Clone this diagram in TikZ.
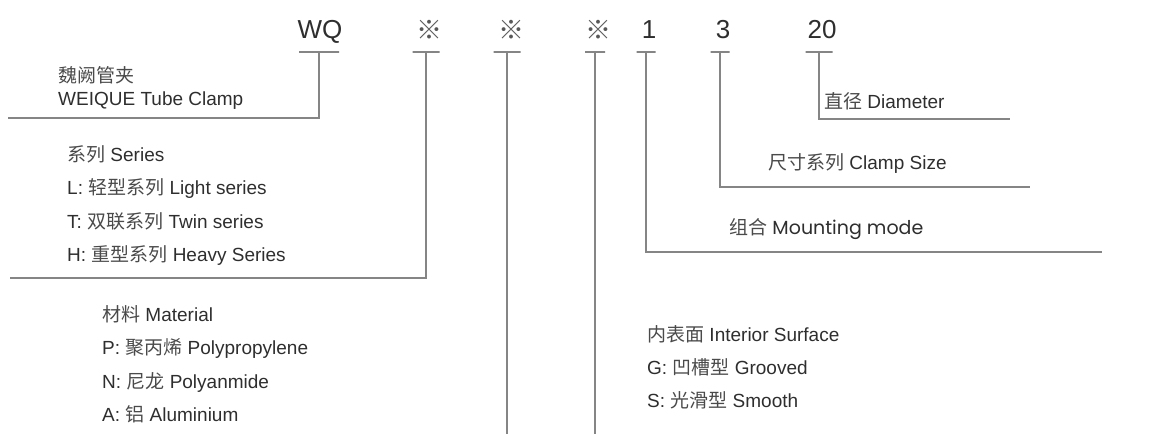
\documentclass[tikz,border=0pt]{standalone}
\usepackage{fontspec}
\setmainfont{Liberation Sans}
\newfontfamily\cjk{Noto Sans CJK SC}
\newfontfamily\geo{Poppins}
\newcommand{\zh}[1]{{\cjk\color{zhgray}#1}}
\definecolor{ink}{HTML}{2E2E2E}
\definecolor{zhgray}{HTML}{4A4A4A}
\definecolor{rule}{HTML}{858585}
\begin{document}
\begin{tikzpicture}[x=1pt,y=-1pt,
    code/.style = {anchor=base, inner sep=0pt, text=ink, font=\fontsize{26}{26}\selectfont},
    refmark/.style = {anchor=base, inner sep=0pt, text=ink!80, font=\cjk\fontsize{26}{26}\selectfont},
    tbar/.style = {draw=rule, line width=1.4pt, inner sep=0pt, minimum height=0pt},
    lead/.style = {draw=rule, line width=1.4pt},
    txt/.style = {anchor=base west, inner sep=0pt, text=ink, font=\fontsize{19}{19}\selectfont}]
    \useasboundingbox (0,0) rectangle (1149,434);

    % Codigo
    \node[code] (wq) at (320,38) {WQ};
    \node[refmark] (s1) at (429,39) {※};
    \node[refmark] (s2) at (511,39) {※};
    \node[refmark] (s3) at (598,39) {※};
    \node[code] (one) at (649,38) {1};
    \node[code] (three) at (723,38) {3};
    \node[code] (twenty) at (822,38) {20};

    % Barras
    \node[tbar, minimum width=40pt] (wq-bar) at (319,52) {};
    \node[tbar, minimum width=27pt] (s1-bar) at (426,52) {};
    \node[tbar, minimum width=27pt] (s2-bar) at (507,52) {};
    \node[tbar, minimum width=20pt] (s3-bar) at (595,52) {};
    \node[tbar, minimum width=19pt] (one-bar) at (646,52) {};
    \node[tbar, minimum width=19pt] (three-bar) at (720,52) {};
    \node[tbar, minimum width=27pt] (twenty-bar) at (819,52) {};

    % Extremos
    \coordinate (wq-end) at (8,118);
    \coordinate (s1-end) at (10,278);
    \coordinate (s2-end) at (507,434);
    \coordinate (s3-end) at (595,434);
    \coordinate (one-end) at (1102,252);
    \coordinate (three-end) at (1030,187);
    \coordinate (twenty-end) at (1010,119);

    % Textos
    \node[txt] (name) at (58,82) {\zh{魏阙管夹}};
    \node[txt] (name-en) at (58,105) {WEIQUE Tube Clamp};

    \node[txt] (series) at (67,161.5) {\zh{系列} Series};
    \node[txt] (series-l) at (67,194.8) {L: \zh{轻型系列} Light series};
    \node[txt] (series-t) at (67,228.1) {T: \zh{双联系列} Twin series};
    \node[txt] (series-h) at (67,261.4) {H: \zh{重型系列} Heavy Series};

    \node[txt] (mat) at (102,321.5) {\zh{材料} Material};
    \node[txt] (mat-p) at (102,354.8) {P: \zh{聚丙烯} Polypropylene};
    \node[txt] (mat-n) at (102,388.1) {N: \zh{尼龙} Polyanmide};
    \node[txt] (mat-a) at (102,421.4) {A: \zh{铝} Aluminium};

    \node[txt] (surf) at (647,341.5) {\zh{内表面} Interior Surface};
    \node[txt] (surf-g) at (647,374.3) {G: \zh{凹槽型} Grooved};
    \node[txt] (surf-s) at (647,407.1) {S: \zh{光滑型} Smooth};

    \node[txt] (mount) at (729,234.5) {\zh{组合} {\geo Mounting mode}};
    \node[txt] (size) at (768,169.5) {\zh{尺寸系列} Clamp Size};
    \node[txt] (dia) at (824,108.5) {\zh{直径} Diameter};

    % Conexiones
    \draw[lead] (wq-bar.center) |- (wq-end);
    \draw[lead] (s1-bar.center) |- (s1-end);
    \draw[lead] (s2-bar.center) -- (s2-end);
    \draw[lead] (s3-bar.center) -- (s3-end);
    \draw[lead] (one-bar.center) |- (one-end);
    \draw[lead] (three-bar.center) |- (three-end);
    \draw[lead] (twenty-bar.center) |- (twenty-end);
\end{tikzpicture}
\end{document}
